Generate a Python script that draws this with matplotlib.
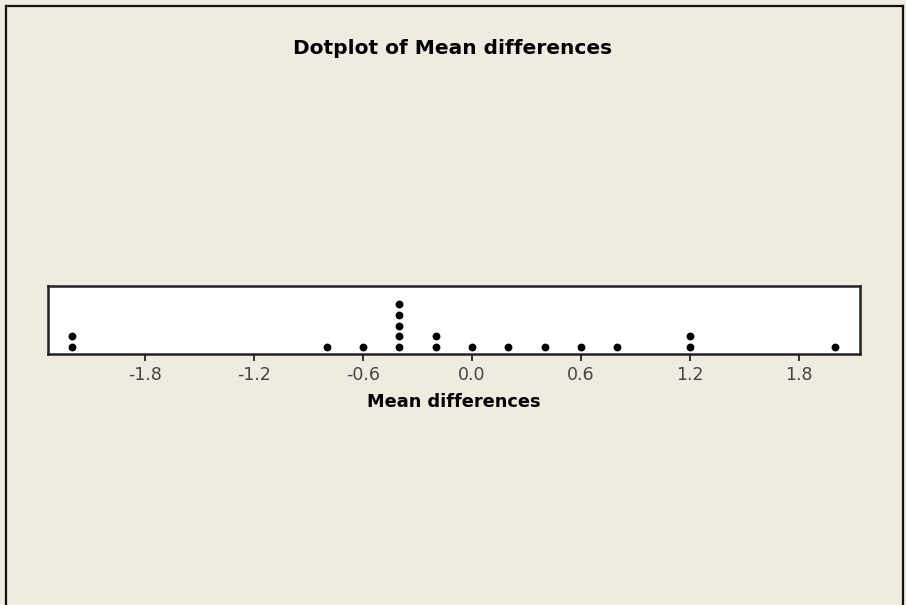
import matplotlib
matplotlib.use("Agg")
import matplotlib.pyplot as plt
from matplotlib.lines import Line2D
import numpy as np

# values of the dots (one entry per observation)
values = [-2.2, -2.2, -0.8, -0.6, -0.4, -0.4, -0.4, -0.4, -0.4,
          -0.2, -0.2, 0.0, 0.2, 0.4, 0.6, 0.8, 1.2, 1.2, 2.0]
tick_vals = [-1.8, -1.2, -0.6, 0.0, 0.6, 1.2, 1.8]
tick_labels = ["-1.8", "-1.2", "-0.6", "0.0", "0.6", "1.2", "1.8"]

bg = "#F0EBE0"
W, H = 906, 605
fig = plt.figure(figsize=(W / 100, H / 100), dpi=100, facecolor=bg)

# axes box in pixels: left 48, right 860, top 286, bottom 354
ax = fig.add_axes([48 / W, 1 - 354 / H, (860 - 48) / W, (354 - 286) / H])
ax.set_facecolor("white")

# stack repeated values
xs, ys = [], []
counts = {}
for v in values:
    k = counts.get(v, 0)
    xs.append(v)
    ys.append(k)
    counts[v] = k + 1
ax.scatter(xs, ys, s=32, color="black", zorder=3, linewidths=0)

ax.set_xlim(-2.334, 2.135)
ax.set_ylim(-0.65, 5.7)
ax.set_yticks([])
ax.set_xticks(tick_vals)
ax.set_xticklabels(tick_labels)
ax.tick_params(axis="x", direction="out", length=5, width=1.3, color="#222222",
               labelsize=12.5, labelcolor="#444444", pad=4)
for s in ax.spines.values():
    s.set_linewidth(1.8)
    s.set_color("#222222")

ax.set_xlabel("Mean differences", fontsize=12.8, fontweight="bold", labelpad=6)
fig.text(453 / W, 1 - 49 / H, "Dotplot of Mean differences", ha="center",
         va="center", fontsize=14.5, fontweight="bold")

# outer frame (left, top, right)
lc = "#111111"
fig.add_artist(Line2D([6 / W, 6 / W], [0, 1 - 6 / H], color=lc, lw=1.6))
fig.add_artist(Line2D([6 / W, 903 / W], [1 - 6 / H, 1 - 6 / H], color=lc, lw=1.6))
fig.add_artist(Line2D([903 / W, 903 / W], [0, 1 - 6 / H], color=lc, lw=1.6))

fig.savefig("out.png", dpi=100, facecolor=bg)
